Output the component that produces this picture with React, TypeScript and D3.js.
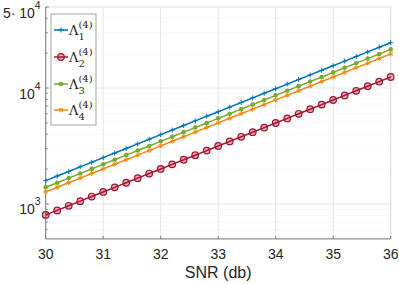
import React, { useEffect, useRef } from "react";
import * as d3 from "d3";

const snr = [
  30, 30.2, 30.4, 30.6, 30.8, 31, 31.2, 31.4, 31.6, 31.8, 32, 32.2, 32.4, 32.6, 32.8, 33,
  33.2, 33.4, 33.6, 33.8, 34, 34.2, 34.4, 34.6, 34.8, 35, 35.2, 35.4, 35.6, 35.8, 36,
];
const lambda1 = [
  1590, 1742, 1908, 2091, 2291, 2510, 2750, 3013, 3301, 3616, 3962, 4341, 4756, 5210, 5708,
  6254, 6852, 7507, 8225, 9011, 9872, 10816, 11850, 12983, 14224, 15584, 17074, 18706, 20494,
  22453, 24600,
];
const lambda2 = [
  805, 881, 965, 1058, 1159, 1270, 1392, 1525, 1670, 1830, 2005, 2197, 2407, 2636, 2888, 3165,
  3467, 3799, 4162, 4560, 4995, 5473, 5996, 6569, 7197, 7886, 8639, 9465, 10370, 11360, 12448,
];
const lambda3 = [
  1393, 1526, 1671, 1832, 2007, 2199, 2409, 2639, 2892, 3168, 3471, 3803, 4166, 4564, 5000,
  5478, 6002, 6576, 7205, 7894, 8648, 9475, 10381, 11373, 12460, 13652, 14957, 16386, 17953,
  19669, 21550,
];
const lambda4 = [
  1272, 1394, 1526, 1673, 1833, 2008, 2200, 2410, 2641, 2893, 3170, 3473, 3805, 4168, 4566,
  5003, 5482, 6006, 6580, 7209, 7898, 8653, 9480, 10386, 11379, 12467, 13659, 14965, 16395,
  17962, 19680,
];
const seriesNames = ["1", "2", "3", "4"];
const seriesColors = ["#0072BD", "#A2142F", "#77AC30", "#F08A12"];
const seriesMarkers = ["plus", "circle", "dot", "star"];
const xTicks = [30, 31, 32, 33, 34, 35, 36];
const yMajor = [1000, 10000];
const yTopTick = 50000;

const App = () => {
  const ref = useRef<SVGSVGElement>(null);

  useEffect(() => {
    const svg = d3.select(ref.current);
    svg.selectAll("*").remove();
    const font = "'Liberation Sans', Arial, sans-serif";
    const left = 45.7,
      right = 390.7,
      top = 7,
      bottom = 238.9;

    const x = d3.scaleLinear().domain([30, 36]).range([left, right]);
    const y = d3.scaleLog().domain([500, 50000]).range([bottom, top]);

    // minor grid
    const minor: number[] = [];
    [100, 1000, 10000].forEach((d) => {
      for (let k = 2; k <= 9; k++) {
        const v = d * k;
        if (v > 500 && v < 50000) minor.push(v);
      }
    });
    const g = svg.append("g");
    g.selectAll(".minor")
      .data(minor)
      .enter()
      .append("line")
      .attr("x1", left)
      .attr("x2", right)
      .attr("y1", (d) => y(d))
      .attr("y2", (d) => y(d))
      .attr("stroke", "#ececec")
      .attr("stroke-width", 0.8)
      .attr("stroke-dasharray", "1,1");
    g.selectAll(".major")
      .data(yMajor)
      .enter()
      .append("line")
      .attr("x1", left)
      .attr("x2", right)
      .attr("y1", (d) => y(d))
      .attr("y2", (d) => y(d))
      .attr("stroke", "#e6e6e6");
    g.selectAll(".xgrid")
      .data(xTicks)
      .enter()
      .append("line")
      .attr("x1", (d) => x(d))
      .attr("x2", (d) => x(d))
      .attr("y1", top)
      .attr("y2", bottom)
      .attr("stroke", "#e6e6e6");

    // box
    svg
      .append("rect")
      .attr("x", left)
      .attr("y", top)
      .attr("width", right - left)
      .attr("height", bottom - top)
      .attr("fill", "none")
      .attr("stroke", "#e0e0e0");
    svg
      .append("path")
      .attr("d", `M${left},${top}V${bottom}H${right}`)
      .attr("fill", "none")
      .attr("stroke", "#808080");

    // ticks
    xTicks.forEach((t) => {
      svg
        .append("line")
        .attr("x1", x(t))
        .attr("x2", x(t))
        .attr("y1", bottom)
        .attr("y2", bottom - 3)
        .attr("stroke", "#808080");
      svg
        .append("text")
        .attr("x", x(t))
        .attr("y", bottom + 20.5)
        .attr("text-anchor", "middle")
        .attr("font-family", font)
        .attr("font-size", 14)
        .attr("fill", "#262626")
        .text(t);
    });
    [...minor, ...yMajor, yTopTick].forEach((v) => {
      const major = yMajor.includes(v) || v === yTopTick;
      svg
        .append("line")
        .attr("x1", left)
        .attr("x2", left + (major ? 3 : 2))
        .attr("y1", y(v))
        .attr("y2", y(v))
        .attr("stroke", "#808080");
    });
    const yLabel = (v: number, pre: string, exp: string) => {
      const t = svg
        .append("text")
        .attr("x", left - 5)
        .attr("y", y(v) + 10.5)
        .attr("text-anchor", "end")
        .attr("font-family", font)
        .attr("font-size", 14)
        .attr("fill", "#262626");
      t.append("tspan").text(pre);
      t.append("tspan").attr("dy", -9).attr("font-size", 10.5).text(exp);
    };
    yLabel(1000, "10", "3");
    yLabel(10000, "10", "4");
    yLabel(yTopTick, "5\u00b7 10", "4");

    svg
      .append("text")
      .attr("x", (left + right) / 2)
      .attr("y", 278)
      .attr("text-anchor", "middle")
      .attr("font-family", font)
      .attr("font-size", 16)
      .attr("fill", "#262626")
      .text("SNR (db)");

    const data = [lambda1, lambda2, lambda3, lambda4];
    const line = d3
      .line<number>()
      .x((d, i) => x(snr[i]))
      .y((d) => y(d));

    const drawMarker = (sel: any, kind: string, color: string, cx: number, cy: number) => {
      if (kind === "plus") {
        sel
          .append("path")
          .attr("d", `M${cx - 2.5},${cy}H${cx + 2.5}M${cx},${cy - 2.5}V${cy + 2.5}`)
          .attr("stroke", color)
          .attr("stroke-width", 1);
      } else if (kind === "circle") {
        sel
          .append("circle")
          .attr("cx", cx)
          .attr("cy", cy)
          .attr("r", 3.3)
          .attr("fill", color)
          .attr("fill-opacity", 0.35)
          .attr("stroke", color)
          .attr("stroke-width", 1.2);
      } else if (kind === "dot") {
        sel
          .append("circle")
          .attr("cx", cx)
          .attr("cy", cy)
          .attr("r", 2.3)
          .attr("fill", color);
      } else {
        const r = 2.5;
        const a = r * 0.7;
        sel
          .append("path")
          .attr(
            "d",
            `M${cx - r},${cy}H${cx + r}M${cx},${cy - r}V${cy + r}M${cx - a},${cy - a}L${cx + a},${cy + a}M${cx - a},${cy + a}L${cx + a},${cy - a}`
          )
          .attr("stroke", color)
          .attr("stroke-width", 1);
      }
    };

    data.forEach((vals, k) => {
      const c = seriesColors[k];
      const sg = svg.append("g");
      sg.append("path")
        .attr("d", line(vals))
        .attr("fill", "none")
        .attr("stroke", c)
        .attr("stroke-width", 1.5);
      vals.forEach((v, i) => drawMarker(sg, seriesMarkers[k], c, x(snr[i]), y(v)));
    });

    // legend
    const lg = svg.append("g");
    lg.append("rect")
      .attr("x", 51)
      .attr("y", 14)
      .attr("width", 45)
      .attr("height", 111)
      .attr("fill", "white")
      .attr("stroke", "#8c8c8c")
      .attr("stroke-width", 0.8);
    const rows = [30, 57, 84, 110];
    seriesNames.forEach((n, k) => {
      const cy = rows[k];
      const c = seriesColors[k];
      lg.append("line")
        .attr("x1", 54)
        .attr("x2", 68)
        .attr("y1", cy)
        .attr("y2", cy)
        .attr("stroke", c)
        .attr("stroke-width", 1.5);
      drawMarker(lg, seriesMarkers[k], c, 61, cy);
      const t = lg
        .append("text")
        .attr("x", 69)
        .attr("y", cy + 5)
        .attr("font-family", "'DejaVu Serif', 'Liberation Serif', serif")
        .attr("font-size", 13)
        .attr("fill", "#262626");
      t.append("tspan").text("\u039b");
      t.append("tspan").attr("dy", -7.5).attr("font-size", 10).text("(4)");
      lg.append("text")
        .attr("x", 78.5)
        .attr("y", cy + 9.5)
        .attr("font-family", "'DejaVu Serif', 'Liberation Serif', serif")
        .attr("font-size", 10)
        .attr("fill", "#262626")
        .text(n);
    });
  }, []);

  return (
    <svg
      ref={ref}
      width={399}
      height={284}
      style={{ position: "absolute", left: 0, top: 0, background: "white" }}
    />
  );
};

export default App;
